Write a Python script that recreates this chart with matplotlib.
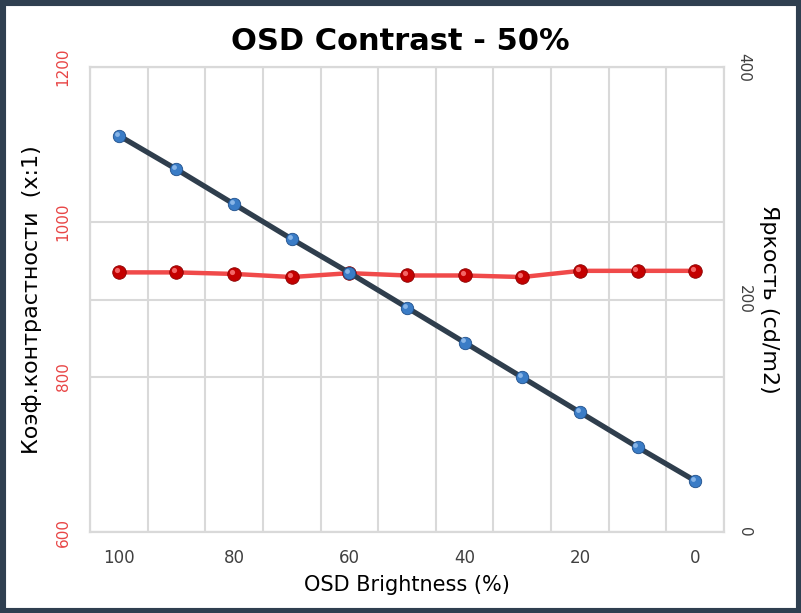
import numpy as np
import matplotlib
matplotlib.use('Agg')
import matplotlib.pyplot as plt
from matplotlib.transforms import offset_copy

# data
osd_brightness = [100, 90, 80, 70, 60, 50, 40, 30, 20, 10, 0]
contrast = [935, 935, 933, 929, 934, 931, 931, 929, 937, 937, 937]
luminance = [341, 312, 282, 252, 223, 193, 163, 133, 103, 73, 44]

fig = plt.figure(figsize=(8.01, 6.13), dpi=100)
fig.patch.set_facecolor('white')
ax = fig.add_axes([0.1124, 0.1321, 0.7915, 0.7586])
ax2 = ax.twinx()

x = np.arange(len(osd_brightness))
grid_c = '#d9d9d9'

# contrast (left axis)
ax.plot(x, contrast, color='#f04a4a', lw=3.2, zorder=3)
ax.scatter(x, contrast, s=95, color='#c40000', edgecolors='#8a0000',
           linewidths=0.6, zorder=4)
hl = offset_copy(ax.transData, fig=fig, x=-1.5, y=1.5, units='points')
ax.scatter(x, contrast, s=14, color='#ff8080', alpha=0.8, lw=0, zorder=5,
           transform=hl)
ax.set_ylim(600, 1200)
ax.set_yticks([600, 800, 1000, 1200])
ax.set_xlim(-0.5, len(x) - 0.5)
ax.set_xticks(x[::2])
ax.set_xticklabels([str(v) for v in osd_brightness[::2]])
ax.set_xticks(np.arange(-0.5, len(x), 1), minor=True)
ax.grid(True, which='minor', axis='x', color=grid_c, lw=1.5)
ax.grid(True, which='major', axis='y', color=grid_c, lw=1.5)
ax.set_axisbelow(True)
ax.tick_params(axis='both', which='both', length=0)
ax.tick_params(axis='x', labelsize=12, labelcolor='#404040', pad=12)
ax.tick_params(axis='y', labelsize=11, labelcolor='#e84545', pad=14)
for lbl in ax.get_yticklabels():
    lbl.set_rotation(90)
    lbl.set_va('center')

# luminance (right axis)
ax2.plot(x, luminance, color='#2f3e4d', lw=3.8, zorder=3)
ax2.scatter(x, luminance, s=80, color='#3a7cc6', edgecolors='#1f4f8a',
            linewidths=0.6, zorder=4)
hl2 = offset_copy(ax2.transData, fig=fig, x=-1.5, y=1.5, units='points')
ax2.scatter(x, luminance, s=12, color='#9cc4f0', alpha=0.8, lw=0, zorder=5,
            transform=hl2)
ax2.set_ylim(0, 400)
ax2.set_yticks([0, 200, 400])
ax2.grid(True, axis='y', color=grid_c, lw=1.5, zorder=0)
ax2.tick_params(axis='y', length=0, labelsize=11, labelcolor='#404040', pad=9)
for lbl in ax2.get_yticklabels():
    lbl.set_rotation(-90)
    lbl.set_va('center')

for a in (ax, ax2):
    for s in a.spines.values():
        s.set_color(grid_c)
        s.set_linewidth(1.5)

ax.set_xlabel('OSD Brightness (%)', fontsize=15, labelpad=6)
ax.set_ylabel('Коэф.контрастности  (x:1)', fontsize=16, labelpad=10)
ax2.set_ylabel('Яркость (cd/m2)', fontsize=16, rotation=-90, labelpad=20)
fig.text(0.5, 0.933, 'OSD Contrast - 50%', ha='center', va='center',
         fontsize=22, fontweight='bold')

# dark frame around the figure
frame = plt.Rectangle((0, 0), 1, 1, transform=fig.transFigure, fill=False,
                      edgecolor='#2f3f50', lw=8, zorder=10)
fig.patches.append(frame)

fig.savefig('out.png', dpi=100)
